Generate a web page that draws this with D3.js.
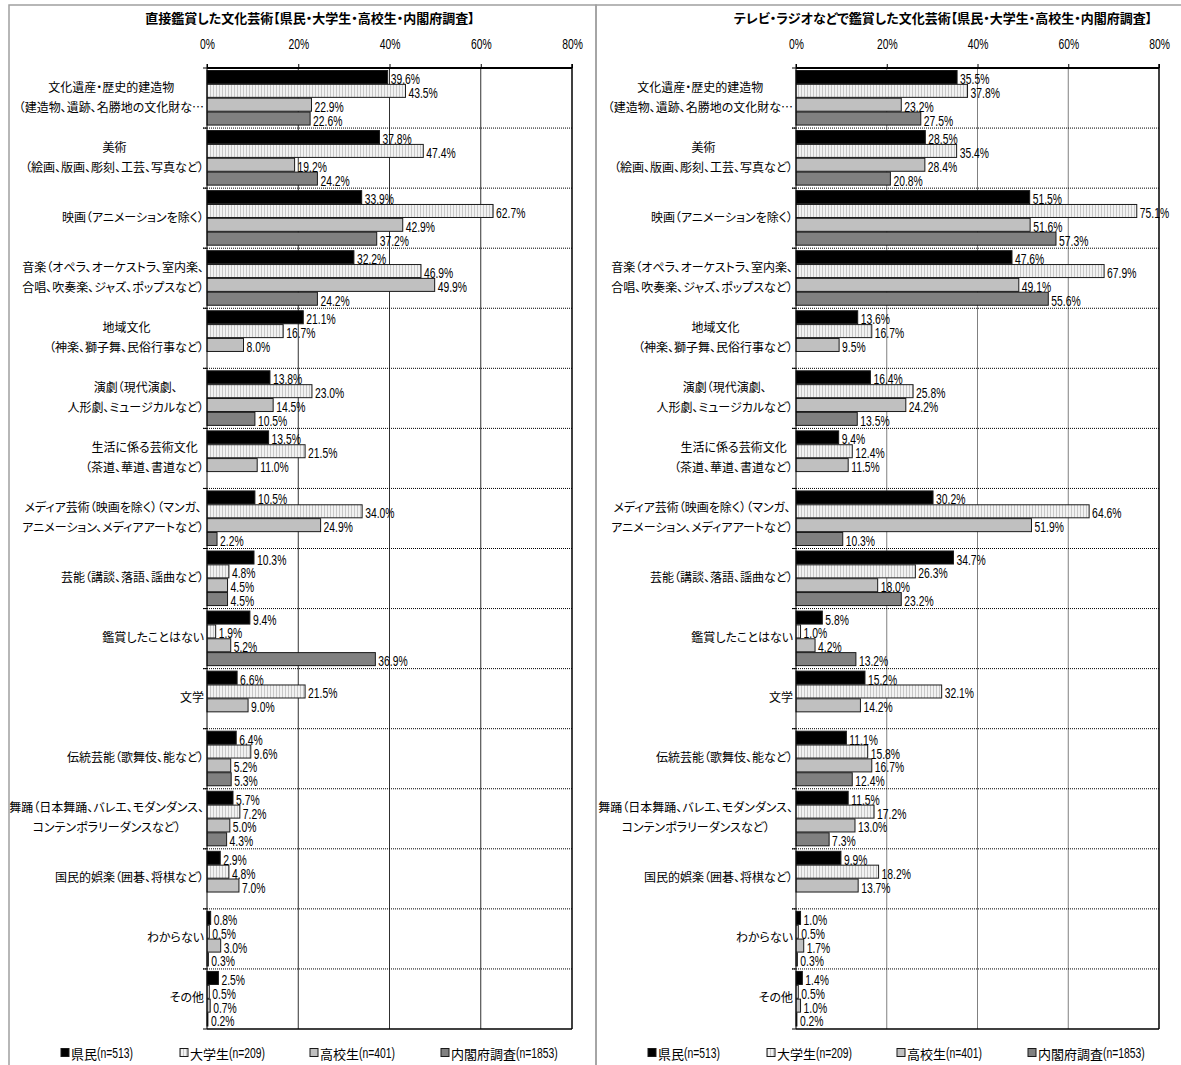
<!DOCTYPE html>
<html>
<head>
<meta charset="utf-8">
<script src="https://cdn.jsdelivr.net/npm/d3@7/dist/d3.min.js"></script>
<style>
  html, body { margin: 0; padding: 0; background: #fff; }
  svg { display: block; }
  .num { font-family: "Liberation Sans", Arial, sans-serif; }
  .jp { font-family: "Noto Sans CJK JP", sans-serif; font-feature-settings: "palt"; }
</style>
</head>
<body>
<svg id="chart" width="1181" height="1065"></svg>
<script>
const categories = [
  "文化遺産・歴史的建造物\n（建造物、遺跡、名勝地の文化財な…",
  "美術\n（絵画、版画、彫刻、工芸、写真など）",
  "映画（アニメーションを除く）",
  "音楽（オペラ、オーケストラ、室内楽、\n合唱、吹奏楽、ジャズ、ポップスなど）",
  "地域文化\n（神楽、獅子舞、民俗行事など）",
  "演劇（現代演劇、\n人形劇、ミュージカルなど）",
  "生活に係る芸術文化\n（茶道、華道、書道など）",
  "メディア芸術（映画を除く）（マンガ、\nアニメーション、メディアアートなど）",
  "芸能（講談、落語、謡曲など）",
  "鑑賞したことはない",
  "文学",
  "伝統芸能（歌舞伎、能など）",
  "舞踊（日本舞踊、バレエ、モダンダンス、\nコンテンポラリーダンスなど）",
  "国民的娯楽（囲碁、将棋など）",
  "わからない",
  "その他"
];

const seriesNames = ["県民", "大学生", "高校生", "内閣府調査"];
const seriesCounts = ["(n=513)", "(n=209)", "(n=401)", "(n=1853)"];

// 直接鑑賞
const directKenmin  = [39.6, 37.8, 33.9, 32.2, 21.1, 13.8, 13.5, 10.5, 10.3, 9.4, 6.6, 6.4, 5.7, 2.9, 0.8, 2.5];
const directDaigaku = [43.5, 47.4, 62.7, 46.9, 16.7, 23.0, 21.5, 34.0, 4.8, 1.9, 21.5, 9.6, 7.2, 4.8, 0.5, 0.5];
const directKoukou  = [22.9, 19.2, 42.9, 49.9, 8.0, 14.5, 11.0, 24.9, 4.5, 5.2, 9.0, 5.2, 5.0, 7.0, 3.0, 0.7];
const directNaikaku = [22.6, 24.2, 37.2, 24.2, null, 10.5, null, 2.2, 4.5, 36.9, null, 5.3, 4.3, null, 0.3, 0.2];

// テレビ・ラジオなどで鑑賞
const mediaKenmin  = [35.5, 28.5, 51.5, 47.6, 13.6, 16.4, 9.4, 30.2, 34.7, 5.8, 15.2, 11.1, 11.5, 9.9, 1.0, 1.4];
const mediaDaigaku = [37.8, 35.4, 75.1, 67.9, 16.7, 25.8, 12.4, 64.6, 26.3, 1.0, 32.1, 15.8, 17.2, 18.2, 0.5, 0.5];
const mediaKoukou  = [23.2, 28.4, 51.6, 49.1, 9.5, 24.2, 11.5, 51.9, 18.0, 4.2, 14.2, 16.7, 13.0, 13.7, 1.7, 1.0];
const mediaNaikaku = [27.5, 20.8, 57.3, 55.6, null, 13.5, null, 10.3, 23.2, 13.2, null, 12.4, 7.3, null, 0.3, 0.2];

const tickValues = [0, 20, 40, 60, 80];

const NARROW = 0.74; // horizontal squeeze for the condensed numeric font

const svg = d3.select("#chart");
const defs = svg.append("defs");

// vertical-stripe fill for 大学生
const stripe = defs.append("pattern")
  .attr("id", "stripe")
  .attr("patternUnits", "userSpaceOnUse")
  .attr("width", 3).attr("height", 4);
stripe.append("rect").attr("width", 3).attr("height", 4).attr("fill", "#f2f2f2");
stripe.append("rect").attr("x", 0).attr("width", 1).attr("height", 4).attr("fill", "#c8c8c8");

const seriesFills = ["#000000", "url(#stripe)", "#c0c0c0", "#808080"];

function narrowText(parent, x, y, str, size, anchor) {
  return parent.append("text")
    .attr("class", "num")
    .attr("transform", `translate(${x},${y}) scale(${NARROW},1)`)
    .attr("text-anchor", anchor || "start")
    .style("font-size", size + "px")
    .text(str);
}

function drawPanel(p) {
  const clipId = "clip-" + p.id;
  defs.append("clipPath").attr("id", clipId)
    .append("rect")
    .attr("x", p.x0).attr("y", 0)
    .attr("width", p.x1 - p.x0).attr("height", 1065);

  const g = svg.append("g").attr("clip-path", `url(#${clipId})`);

  const x = d3.scaleLinear().domain([0, 80]).range([p.plotLeft, p.plotRight]);
  const y = d3.scaleBand().domain(d3.range(categories.length)).range([p.plotTop, p.plotBottom]);
  const inner = d3.scaleBand().domain(d3.range(seriesNames.length))
    .range([2.5, y.bandwidth() - 3]).paddingInner(0.06);

  // title
  g.append("text")
    .attr("class", "jp")
    .attr("x", p.titleX).attr("y", 23)
    .attr("text-anchor", "middle")
    .style("font-size", "13px")
    .style("font-weight", "bold")
    .text(p.title);

  // vertical grid lines
  g.selectAll(".vgrid")
    .data(tickValues.slice(1, -1))
    .enter().append("line")
    .attr("x1", d => x(d)).attr("x2", d => x(d))
    .attr("y1", p.plotTop).attr("y2", p.plotBottom)
    .attr("stroke", p.gridColor).attr("stroke-width", 1);

  // dotted row separators
  g.selectAll(".hgrid")
    .data(d3.range(1, categories.length))
    .enter().append("line")
    .attr("x1", p.plotLeft - 4).attr("x2", p.plotRight)
    .attr("y1", d => y(d)).attr("y2", d => y(d))
    .attr("stroke", "#000").attr("stroke-width", 1)
    .attr("stroke-dasharray", "1,1");

  // top axis
  const axis = g.append("g")
    .attr("class", "num")
    .attr("transform", `translate(0,${p.plotTop})`)
    .call(d3.axisTop(x).tickValues(tickValues).tickFormat(d => d + "%").tickSize(4).tickPadding(15));
  axis.select(".domain").remove();
  axis.selectAll(".tick line").attr("stroke", "#000");
  axis.selectAll(".tick text")
    .style("font-size", "14px")
    .attr("fill", "#000")
    .attr("transform", `scale(${NARROW},1)`);

  // bars
  const bars = [];
  p.values.forEach((vals, s) => {
    vals.forEach((v, i) => {
      if (v !== null) bars.push({ i, s, v });
    });
  });

  g.selectAll(".bar")
    .data(bars)
    .enter().append("rect")
    .attr("x", x(0))
    .attr("y", d => y(d.i) + inner(d.s))
    .attr("width", d => x(d.v) - x(0))
    .attr("height", inner.bandwidth())
    .attr("fill", d => seriesFills[d.s])
    .attr("stroke", "#1a1a1a")
    .attr("stroke-width", 1);

  bars.forEach(d => {
    narrowText(g, x(d.v) + 3, y(d.i) + inner(d.s) + inner.bandwidth() / 2 + 7,
      d.v.toFixed(1) + "%", 14);
  });

  // plot frame
  g.append("line")
    .attr("x1", p.plotLeft).attr("x2", p.plotRight)
    .attr("y1", p.plotTop).attr("y2", p.plotTop)
    .attr("stroke", "#000").attr("stroke-width", 2);
  g.append("line")
    .attr("x1", p.plotLeft).attr("x2", p.plotRight)
    .attr("y1", p.plotBottom).attr("y2", p.plotBottom)
    .attr("stroke", "#000").attr("stroke-width", 1.5);
  g.append("line")
    .attr("x1", p.plotRight).attr("x2", p.plotRight)
    .attr("y1", p.plotTop - 4).attr("y2", p.plotBottom)
    .attr("stroke", "#000").attr("stroke-width", 1.5);
  g.append("line")
    .attr("x1", p.plotLeft).attr("x2", p.plotLeft)
    .attr("y1", p.plotTop - 4).attr("y2", p.plotBottom)
    .attr("stroke", "#000").attr("stroke-width", 1);
  g.selectAll(".ytick")
    .data(d3.range(0, categories.length + 1))
    .enter().append("line")
    .attr("x1", p.plotLeft - 4).attr("x2", p.plotLeft)
    .attr("y1", d => d === categories.length ? p.plotBottom : y(d))
    .attr("y2", d => d === categories.length ? p.plotBottom : y(d))
    .attr("stroke", "#000");

  // category labels: lines centred on each other, block right-aligned
  const right = p.plotLeft - 3;
  categories.forEach((label, i) => {
    const lines = label.split("\n");
    const cy = y(i) + y.bandwidth() / 2 - 2;
    const texts = lines.map((line, k) => g.append("text")
      .attr("class", "jp")
      .attr("y", cy + (k - (lines.length - 1) / 2) * 20)
      .attr("dominant-baseline", "central")
      .style("font-size", "12px")
      .text(line));
    const w = d3.max(texts, t => t.node().getComputedTextLength());
    texts.forEach(t => t.attr("text-anchor", "middle").attr("x", right - w / 2));
  });

  // legend
  const lx = [52, 171, 301, 432];
  seriesNames.forEach((name, s) => {
    const item = g.append("g").attr("transform", `translate(${p.x0 + lx[s]},1053)`);
    item.append("rect")
      .attr("x", 0).attr("y", -4.5).attr("width", 8).attr("height", 8)
      .attr("fill", seriesFills[s]).attr("stroke", "#1a1a1a").attr("stroke-width", 1);
    const jt = item.append("text")
      .attr("class", "jp")
      .attr("x", 10).attr("y", 0)
      .attr("dominant-baseline", "central")
      .style("font-size", "13px")
      .text(name);
    const jw = jt.node().getComputedTextLength();
    narrowText(item, 10 + jw, 5, seriesCounts[s], 14);
  });

  // panel border
  svg.append("rect")
    .attr("x", p.x0).attr("y", 5)
    .attr("width", p.x1 - p.x0).attr("height", 1080)
    .attr("fill", "none")
    .attr("stroke", "#a0a0a0").attr("stroke-width", 1.5);
}

drawPanel({
  id: "direct",
  title: "直接鑑賞した文化芸術【県民・大学生・高校生・内閣府調査】",
  x0: 9, x1: 596, plotLeft: 207, plotRight: 572, plotTop: 68, plotBottom: 1029,
  titleX: 310, gridColor: "#303030",
  values: [directKenmin, directDaigaku, directKoukou, directNaikaku]
});

drawPanel({
  id: "media",
  title: "テレビ・ラジオなどで鑑賞した文化芸術【県民・大学生・高校生・内閣府調査】",
  x0: 596, x1: 1195, plotLeft: 796, plotRight: 1159, plotTop: 68, plotBottom: 1029,
  titleX: 943, gridColor: "#808080",
  values: [mediaKenmin, mediaDaigaku, mediaKoukou, mediaNaikaku]
});
</script>
</body>
</html>
